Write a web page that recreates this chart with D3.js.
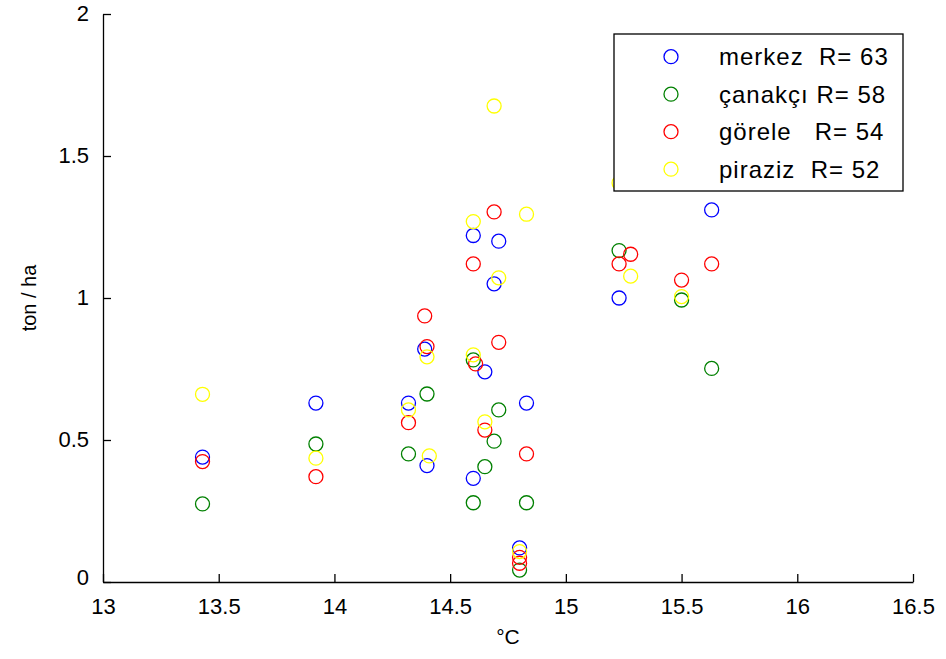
<!DOCTYPE html>
<html>
<head>
<meta charset="utf-8">
<script src="https://cdn.jsdelivr.net/npm/d3@7"></script>
<style>
  body { margin: 0; background: #fff; }
  text { font-family: "Liberation Sans", Arial, sans-serif; fill: #000; }
</style>
</head>
<body>
<script>
// Series data (temperature °C vs yield ton/ha)
const merkezX = [13.43, 13.92, 14.32, 14.39, 14.40, 14.60, 14.60, 14.65, 14.69, 14.71, 14.80, 14.83, 15.23, 15.63];
const merkezY = [0.44, 0.63, 0.63, 0.82, 0.41, 1.22, 0.365, 0.74, 1.05, 1.20, 0.12, 0.63, 1.00, 1.31];

const canakciX = [13.43, 13.92, 14.32, 14.40, 14.60, 14.60, 14.65, 14.69, 14.71, 14.80, 14.83, 15.23, 15.50, 15.63];
const canakciY = [0.275, 0.486, 0.451, 0.662, 0.782, 0.279, 0.406, 0.496, 0.606, 0.042, 0.279, 1.167, 0.993, 0.752];

const goreleX = [13.43, 13.92, 14.32, 14.39, 14.40, 14.60, 14.61, 14.65, 14.69, 14.71, 14.80, 14.80, 14.83, 15.23, 15.28, 15.50, 15.63];
const goreleY = [0.424, 0.371, 0.561, 0.937, 0.829, 1.12, 0.768, 0.535, 1.303, 0.844, 0.087, 0.066, 0.451, 1.12, 1.154, 1.063, 1.12];

const pirazizX = [13.43, 13.92, 14.32, 14.40, 14.41, 14.60, 14.60, 14.65, 14.69, 14.71, 14.80, 14.83, 15.23, 15.28, 15.50];
const pirazizY = [0.661, 0.436, 0.606, 0.793, 0.444, 1.269, 0.80, 0.564, 1.676, 1.071, 0.107, 1.295, 1.405, 1.077, 1.005];

const seriesNames = ["merkez  R= 63", "çanakçı R= 58", "görele   R= 54", "piraziz  R= 52"];
const seriesColors = ["#0000ff", "#008000", "#ff0000", "#ffff00"];

const xTicks = [13, 13.5, 14, 14.5, 15, 15.5, 16, 16.5];
const yTicks = [0, 0.5, 1, 1.5, 2];

const series = [
  { x: merkezX, y: merkezY },
  { x: canakciX, y: canakciY },
  { x: goreleX, y: goreleY },
  { x: pirazizX, y: pirazizY }
];

const W = 946, H = 659;
const margin = { top: 14, right: 33, bottom: 77, left: 103 };
const width = W - margin.left - margin.right;
const height = H - margin.top - margin.bottom;

const svg = d3.select("body").append("svg")
  .attr("width", W)
  .attr("height", H);

const g = svg.append("g")
  .attr("transform", "translate(" + margin.left + "," + margin.top + ")");

const x = d3.scaleLinear().domain([13, 16.5]).range([0, width]);
const y = d3.scaleLinear().domain([0, 2]).range([height, 0]);

// points (drawn first so legend covers them)
series.forEach(function(s, i) {
  g.selectAll(".pt" + i)
    .data(s.x.map(function(v, j) { return [v, s.y[j]]; }))
    .enter().append("circle")
    .attr("cx", function(d) { return x(d[0]); })
    .attr("cy", function(d) { return y(d[1]); })
    .attr("r", 7)
    .attr("fill", "none")
    .attr("stroke", seriesColors[i])
    .attr("stroke-width", 1.3);
});

// axes, MATLAB style: ticks pointing inward
const xAxis = d3.axisBottom(x).tickValues(xTicks).tickSizeInner(-8).tickSizeOuter(0).tickPadding(16)
  .tickFormat(function(d) { return d; });
const yAxis = d3.axisLeft(y).tickValues(yTicks).tickSizeInner(-8).tickSizeOuter(0).tickPadding(14)
  .tickFormat(function(d) { return d; });

const gx = g.append("g")
  .attr("transform", "translate(0," + height + ")")
  .call(xAxis);
const gy = g.append("g").call(yAxis);

[gx, gy].forEach(function(a) {
  a.select(".domain").attr("stroke", "#000").attr("stroke-width", 1.3);
  a.selectAll(".tick line").attr("stroke", "#000").attr("stroke-width", 1.3);
  a.selectAll(".tick text")
    .style("font-family", "'Liberation Sans', Arial, sans-serif")
    .style("font-size", "22px")
    .attr("fill", "#000");
});
gy.selectAll(".tick text").attr("dy", "0.3em");
gy.selectAll(".tick").filter(function(d) { return d === 0; }).select("text").attr("dy", "0.1em");

// axis labels
svg.append("text")
  .attr("x", margin.left + x(14.75))
  .attr("y", 644)
  .attr("text-anchor", "middle")
  .style("font-size", "21px")
  .text("°C");

svg.append("text")
  .attr("transform", "translate(36," + (margin.top + y(1)) + ") rotate(-90)")
  .attr("text-anchor", "middle")
  .style("font-size", "20px")
  .text("ton / ha");

// legend
const legend = svg.append("g").attr("transform", "translate(614,34)");
legend.append("rect")
  .attr("width", 289)
  .attr("height", 157)
  .attr("fill", "#fff")
  .attr("stroke", "#000")
  .attr("stroke-width", 1.3);

const rows = legend.selectAll(".legend")
  .data(seriesNames)
  .enter().append("g")
  .attr("transform", function(d, i) { return "translate(0," + (22.7 + i * 37.5) + ")"; });

rows.append("circle")
  .attr("cx", 57)
  .attr("r", 7)
  .attr("fill", "none")
  .attr("stroke", function(d, i) { return seriesColors[i]; })
  .attr("stroke-width", 1.3);

rows.append("text")
  .attr("x", 105)
  .attr("dy", "0.36em")
  .style("font-size", "24px")
  .style("letter-spacing", "1px")
  .style("white-space", "pre")
  .text(function(d) { return d; });
</script>
</body>
</html>
